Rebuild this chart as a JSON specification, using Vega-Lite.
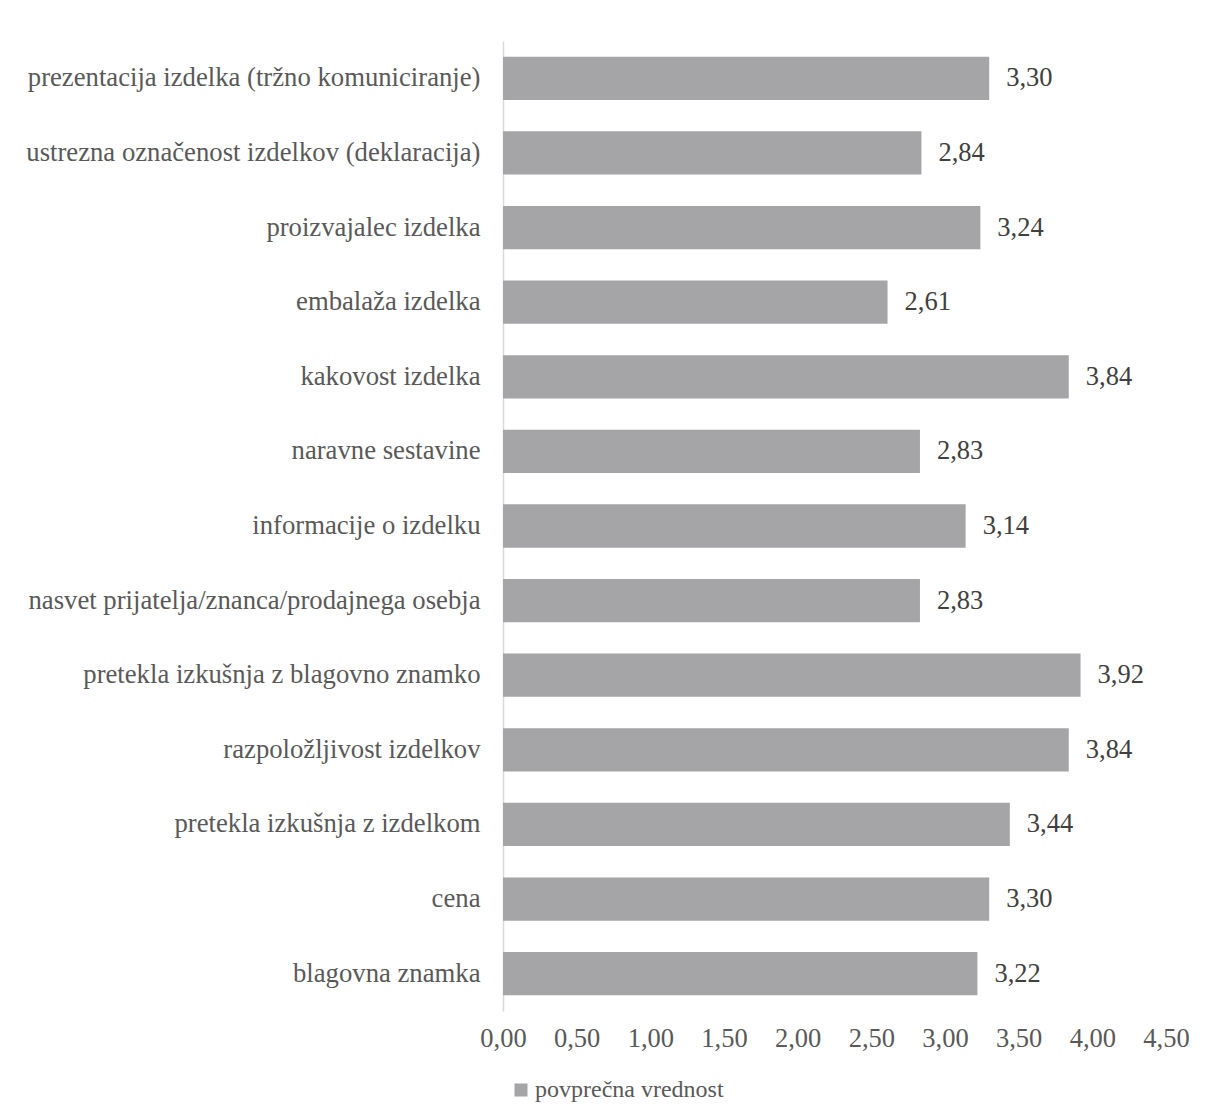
{
  "$schema": "https://vega.github.io/schema/vega-lite/v6.json",
  "width": 663,
  "height": 970,
  "autosize": {"type": "none"},
  "padding": {"left": 503, "top": 41, "right": 39, "bottom": 108},
  "background": "#ffffff",
  "config": {
    "locale": {"number": {"decimal": ",", "thousands": ".", "grouping": [3], "currency": ["", " €"]}},
    "view": {"stroke": null},
    "font": "Times New Roman, Liberation Serif, serif"
  },
  "data": {
    "values": [
      {"dejavnik": "prezentacija izdelka (tržno komuniciranje)", "vrednost": 3.30, "serija": "povprečna vrednost"},
      {"dejavnik": "ustrezna označenost izdelkov (deklaracija)", "vrednost": 2.84, "serija": "povprečna vrednost"},
      {"dejavnik": "proizvajalec izdelka", "vrednost": 3.24, "serija": "povprečna vrednost"},
      {"dejavnik": "embalaža izdelka", "vrednost": 2.61, "serija": "povprečna vrednost"},
      {"dejavnik": "kakovost izdelka", "vrednost": 3.84, "serija": "povprečna vrednost"},
      {"dejavnik": "naravne sestavine", "vrednost": 2.83, "serija": "povprečna vrednost"},
      {"dejavnik": "informacije o izdelku", "vrednost": 3.14, "serija": "povprečna vrednost"},
      {"dejavnik": "nasvet prijatelja/znanca/prodajnega osebja", "vrednost": 2.83, "serija": "povprečna vrednost"},
      {"dejavnik": "pretekla izkušnja z blagovno znamko", "vrednost": 3.92, "serija": "povprečna vrednost"},
      {"dejavnik": "razpoložljivost izdelkov", "vrednost": 3.84, "serija": "povprečna vrednost"},
      {"dejavnik": "pretekla izkušnja z izdelkom", "vrednost": 3.44, "serija": "povprečna vrednost"},
      {"dejavnik": "cena", "vrednost": 3.30, "serija": "povprečna vrednost"},
      {"dejavnik": "blagovna znamka", "vrednost": 3.22, "serija": "povprečna vrednost"}
    ]
  },
  "encoding": {
    "y": {
      "field": "dejavnik",
      "type": "nominal",
      "sort": null,
      "scale": {"paddingInner": 0.42, "paddingOuter": 0.21},
      "axis": {
        "title": null,
        "ticks": false,
        "domainColor": "#d9d9d9",
        "domainWidth": 1.5,
        "labelFont": "Times New Roman, Liberation Serif, serif",
        "labelFontSize": 26.7,
        "labelColor": "#595959",
        "labelPadding": 23,
        "labelLimit": 700
      }
    },
    "x": {
      "field": "vrednost",
      "type": "quantitative",
      "scale": {"domain": [0, 4.5], "nice": false},
      "axis": {
        "title": null,
        "values": [0, 0.5, 1, 1.5, 2, 2.5, 3, 3.5, 4, 4.5],
        "format": ".2f",
        "grid": false,
        "ticks": false,
        "domain": false,
        "labelFont": "Times New Roman, Liberation Serif, serif",
        "labelFontSize": 26.5,
        "labelColor": "#595959",
        "labelPadding": 14,
        "labelFlush": false
      }
    }
  },
  "layer": [
    {
      "mark": {"type": "bar"},
      "encoding": {
        "color": {
          "field": "serija",
          "type": "nominal",
          "scale": {"range": ["#a5a5a8"]},
          "legend": {
            "title": null,
            "orient": "none",
            "legendX": 6,
            "legendY": 1037,
            "symbolType": "square",
            "symbolSize": 169,
            "symbolStrokeWidth": 0,
            "labelFont": "Times New Roman, Liberation Serif, serif",
            "labelFontSize": 24,
            "labelColor": "#595959",
            "labelOffset": 2,
            "labelLimit": 500
          }
        }
      }
    },
    {
      "mark": {"type": "text", "align": "left", "dx": 17, "font": "Times New Roman, Liberation Serif, serif", "fontSize": 26.5, "color": "#404040"},
      "encoding": {
        "text": {"field": "vrednost", "type": "quantitative", "format": ".2f"}
      }
    }
  ]
}
